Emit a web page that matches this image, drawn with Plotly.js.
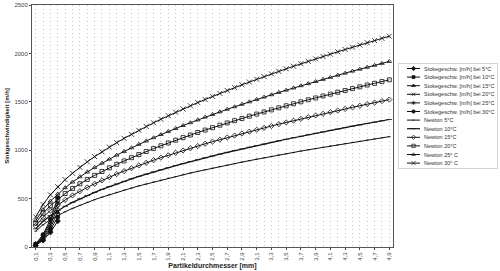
<!DOCTYPE html>
<html><head><meta charset="utf-8">
<script src="https://cdn.plot.ly/plotly-3.0.1.min.js"></script>
<style>html,body{margin:0;padding:0;background:#fff}</style>
</head><body><div id="chart" style="width:500px;height:271px"></div>
<script>
const diameters = [0.1,0.2,0.3,0.4,0.5,0.6,0.7,0.8,0.9,1.0,1.1,1.2,1.3,1.4,1.5,1.6,1.7,1.8,1.9,2.0,
  2.1,2.2,2.3,2.4,2.5,2.6,2.7,2.8,2.9,3.0,3.1,3.2,3.3,3.4,3.5,3.6,3.7,3.8,3.9,4.0,
  4.1,4.2,4.3,4.4,4.5,4.6,4.7,4.8,4.9];
const stokesDiameters = [0.1,0.2,0.3,0.4];
const tickPositions = [0.1,0.3,0.5,0.7,0.9,1.1,1.3,1.5,1.7,1.9,2.1,2.3,2.5,2.7,2.9,3.1,3.3,3.5,3.7,3.9,4.1,4.3,4.5,4.7,4.9];
const tickLabels = ["0,1","0,3","0,5","0,7","0,9","1,1","1,3","1,5","1,7","1,9","2,1","2,3","2,5","2,7","2,9","3,1","3,3","3,5","3,7","3,9","4,1","4,3","4,5","4,7","4,9"];
const yTicks = [0,500,1000,1500,2000,2500];

const stokes5  = [17,67,151,268];
const stokes10 = [19,78,175,311];
const stokes15 = [22,89,201,357];
const stokes20 = [25,102,229,408];
const stokes25 = [29,115,258,458];
const stokes30 = [32,128,287,510];

const newton5 = [163,230,282,326,364,399,431,461,489,515,540,564,587,609,631,651,671,691,710,728,
  746,764,781,798,814,830,846,862,877,892,907,921,936,950,963,977,991,1004,1017,1030,
  1043,1055,1068,1080,1092,1105,1116,1128,1140];
const newton10 = [188,266,326,376,421,461,498,532,564,595,624,652,678,704,729,753,776,798,820,841,
  862,883,902,922,941,959,978,996,1013,1031,1048,1064,1081,1097,1113,1129,1144,1160,1175,1190,
  1205,1219,1234,1248,1262,1276,1290,1304,1317];
const newton15 = [218,308,377,435,486,533,576,615,653,688,722,754,784,814,843,870,897,923,948,973,
  997,1020,1043,1066,1088,1109,1131,1151,1172,1192,1211,1231,1250,1269,1287,1305,1323,1341,1359,1376,
  1393,1410,1427,1443,1459,1476,1492,1507,1523];
const newton20 = [247,349,427,493,552,604,653,698,740,780,818,854,889,923,955,987,1017,1046,1075,1103,
  1130,1157,1183,1208,1233,1258,1282,1305,1328,1351,1373,1395,1417,1438,1459,1480,1500,1521,1540,1560,
  1579,1599,1617,1636,1655,1673,1691,1709,1727];
const newton25 = [274,387,474,548,612,671,725,775,822,866,908,949,987,1025,1061,1095,1129,1162,1194,1225,
  1255,1284,1313,1342,1369,1396,1423,1449,1475,1500,1525,1549,1573,1597,1620,1643,1666,1688,1710,1732,
  1753,1775,1796,1817,1837,1857,1877,1897,1917];
const newton30 = [311,440,539,622,696,762,823,880,934,984,1032,1078,1122,1164,1205,1245,1283,1320,1356,1392,
  1426,1459,1492,1524,1556,1587,1617,1647,1676,1704,1733,1760,1788,1814,1841,1867,1893,1918,1943,1968,
  1992,2017,2040,2064,2087,2110,2133,2156,2178];

const FONT = '"Liberation Sans", Arial, sans-serif';
function tr(name, x, y, symbol, size, lw) {
  return {
    type: 'scatter', mode: 'lines+markers', name: name, x: x, y: y,
    line: {color: '#111', width: lw || 1},
    marker: {symbol: symbol, size: size, color: '#111', line: {color: '#111', width: 0.8}}
  };
}
const data = [
  tr('Stokegeschw. [m/h] bei 5°C', stokesDiameters, stokes5, 'diamond', 4),
  tr('Stokegeschw. [m/h] bei 10°C', stokesDiameters, stokes10, 'square', 3.5),
  tr('Stokegeschw. [m/h] bei 15°C', stokesDiameters, stokes15, 'triangle-up', 4),
  tr('Stokegeschw. [m/h] bei 20°C', stokesDiameters, stokes20, 'x-thin-open', 4),
  tr('Stokegeschw. [m/h] bei 25°C', stokesDiameters, stokes25, 'asterisk-open', 4),
  tr('Stokegeschw. [m/h] bei 30°C', stokesDiameters, stokes30, 'circle', 4),
  tr('Newton 5°C', diameters, newton5, 'line-ew-open', 2),
  tr('Newton 10°C', diameters, newton10, 'line-ew-open', 4, 1.2),
  tr('Newton 15°C', diameters, newton15, 'diamond-open', 4),
  tr('Newton 20°C', diameters, newton20, 'square-open', 4),
  tr('Newton 25° C', diameters, newton25, 'triangle-up-open', 4),
  tr('Newton 30° C', diameters, newton30, 'x-thin-open', 5)
];

const layout = {
  width: 500, height: 271,
  margin: {l: 32, r: 107, t: 5, b: 24, autoexpand: false},
  paper_bgcolor: '#fff', plot_bgcolor: '#fff',
  font: {family: FONT, size: 6, color: '#333'},
  showlegend: true,
  xaxis: {
    type: 'linear', range: [0.05, 4.95],
    tickmode: 'array', tickvals: tickPositions, ticktext: tickLabels,
    tickangle: -90, tickfont: {size: 6, color: '#444'},
    ticks: 'outside', ticklen: 2, tickcolor: '#444',
    showline: true, linecolor: '#555', linewidth: 1, mirror: true,
    showgrid: true, gridcolor: '#c4c4c4', griddash: '1px,3px', gridwidth: 1,
    minor: {dtick: 0.1, tick0: 0.1, showgrid: true, gridcolor: '#c4c4c4', griddash: '1px,3px', gridwidth: 1},
    zeroline: false,
    title: {text: 'Partikeldurchmesser [mm]', font: {size: 7, color: '#222', family: FONT, weight: 'bold'}, standoff: 3}
  },
  yaxis: {
    range: [0, 2500], tickmode: 'array', tickvals: yTicks,
    tickfont: {size: 6, color: '#444'},
    ticks: 'outside', ticklen: 2, tickcolor: '#444',
    showline: true, linecolor: '#555', linewidth: 1, mirror: true,
    showgrid: false, zeroline: false,
    title: {text: 'Sinkgeschwindigkeit [m/h]', font: {size: 6, color: '#222', family: FONT, weight: 'bold'}, standoff: 4}
  },
  legend: {
    x: 1.02, xanchor: 'left', y: 1, yanchor: 'top',
    font: {size: 5.5, color: '#333', family: FONT},
    bgcolor: '#fff', bordercolor: '#d4d4d4', borderwidth: 1,
    itemwidth: 30, traceorder: 'normal'
  }
};

Plotly.newPlot('chart', data, layout, {staticPlot: true, displayModeBar: false}).then(function (gd) {
  const legend = gd.querySelector('g.legend');
  if (!legend) return;
  const items = legend.querySelectorAll('g.traces');
  const spacing = 8.6, y0 = 5.5;
  let maxW = 0;
  items.forEach(function (g, i) {
    g.setAttribute('transform', 'translate(1,' + (y0 + i * spacing) + ')');
    const t = g.querySelector('text.legendtext');
    if (t) {
      t.setAttribute('x', 25);
      t.querySelectorAll('tspan').forEach(function (s) { if (s.hasAttribute('x')) s.setAttribute('x', 25); });
      try { maxW = Math.max(maxW, t.getBBox().width); } catch (e) {}
    }
    g.querySelectorAll('g.legendlines path').forEach(function (p) { p.setAttribute('d', 'M8,0h13'); });
    g.querySelectorAll('g.legendpoints path').forEach(function (p) { p.setAttribute('transform', 'translate(14.5,0) scale(0.85)'); });
  });
  legend.setAttribute('transform', 'translate(398,63)');
  const bg = legend.querySelector('rect.bg');
  if (bg) {
    bg.setAttribute('width', Math.min(100, 27 + maxW + 2));
    bg.setAttribute('height', y0 + (items.length - 1) * spacing + 5);
  }
});
</script>
</body></html>
